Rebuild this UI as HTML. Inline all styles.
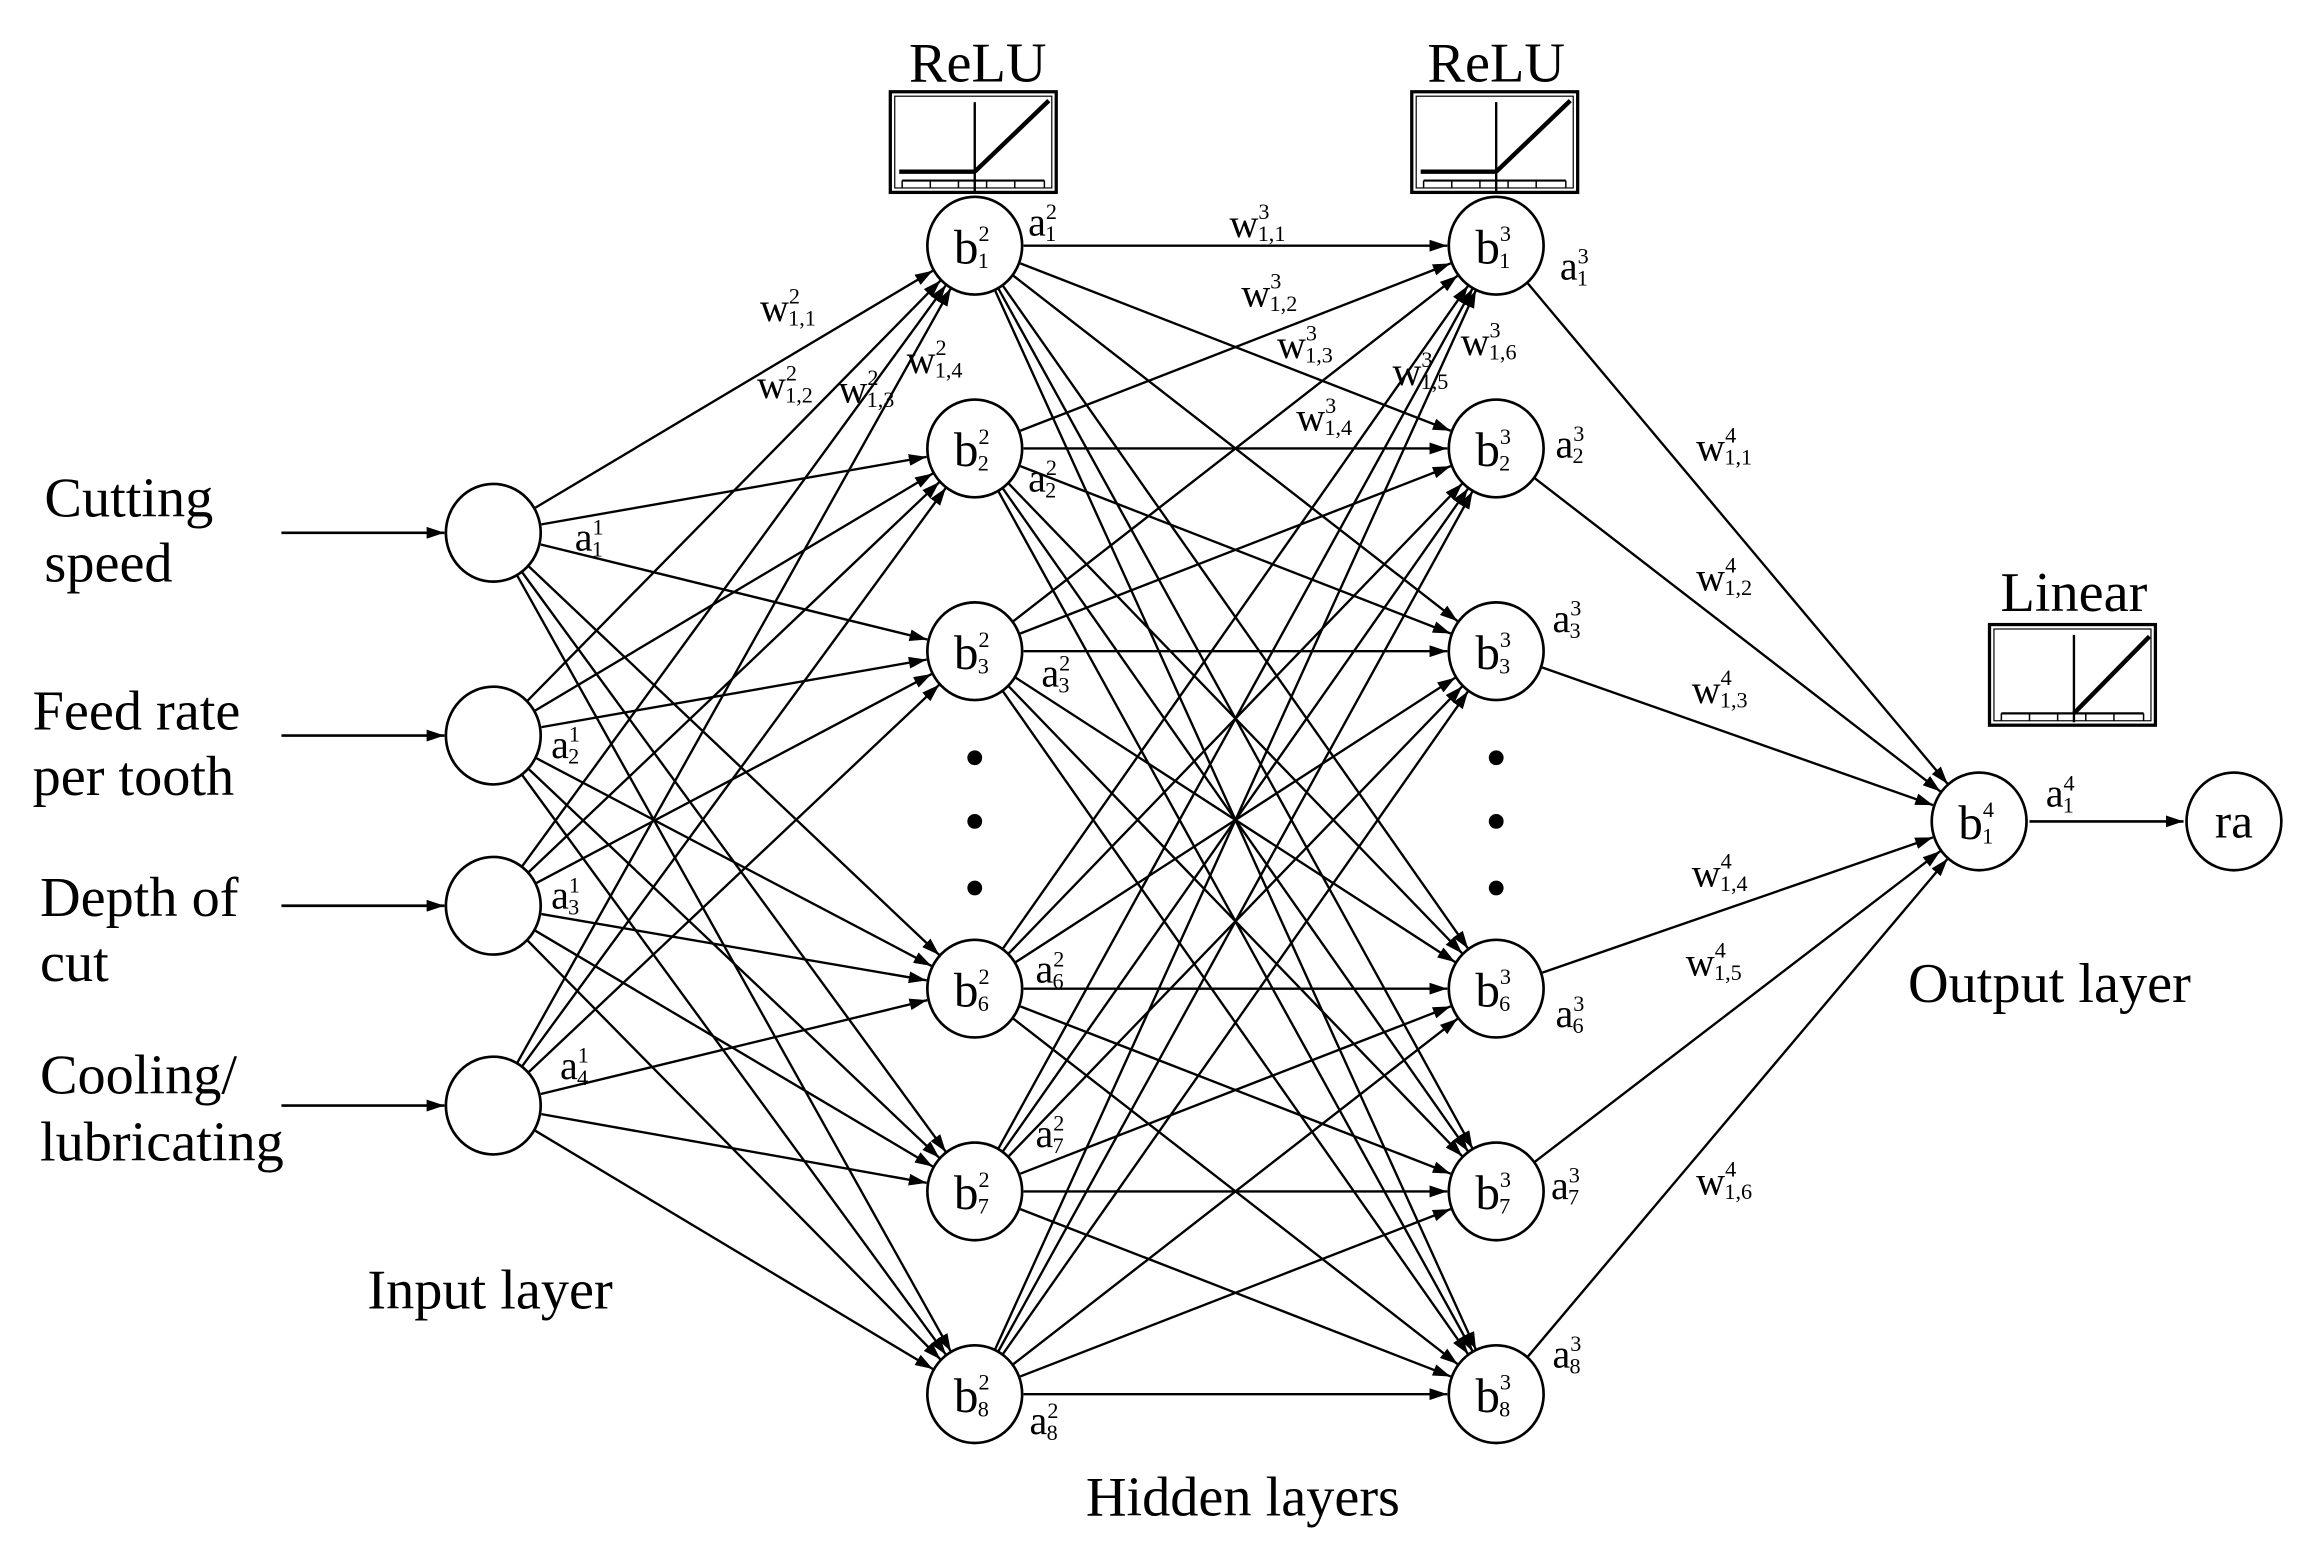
<!DOCTYPE html>
<html><head><meta charset="utf-8">
<style>
html,body{margin:0;padding:0;background:#fff;}
svg{display:block;font-family:"Liberation Serif","Times New Roman",serif;}
text{font-family:"Liberation Serif","Times New Roman",serif;fill:#000;}
.b{font-size:33px;}
.s{font-size:15px;}
.l{font-size:27px;}
.big{font-size:38px;}
</style></head><body>
<svg id="g" width="2308" height="1554" viewBox="0 0 1558 1050" preserveAspectRatio="none" xmlns="http://www.w3.org/2000/svg" font-family="Liberation Serif, serif">
<defs>
<marker id="ar" markerWidth="12" markerHeight="8" refX="12" refY="4" orient="auto" markerUnits="userSpaceOnUse">
<path d="M0,0 L12,4 L0,8 z" fill="#000"/>
</marker>
</defs>
<g id="lines" stroke="#000" stroke-width="1.6" fill="none"></g>

<g stroke="#000" stroke-width="1.8">
<line x1="190" y1="360" x2="300" y2="360" marker-end="url(#ar)"/>
<line x1="190" y1="497" x2="300" y2="497" marker-end="url(#ar)"/>
<line x1="190" y1="612" x2="300" y2="612" marker-end="url(#ar)"/>
<line x1="190" y1="747" x2="300" y2="747" marker-end="url(#ar)"/>
<line x1="1370" y1="555" x2="1474" y2="555" marker-end="url(#ar)"/>
</g>

<g fill="#fff" stroke="#000" stroke-width="1.8">
<ellipse cx="333" cy="360" rx="32" ry="33"/>
<ellipse cx="333" cy="497" rx="32" ry="33"/>
<ellipse cx="333" cy="612" rx="32" ry="33"/>
<ellipse cx="333" cy="747" rx="32" ry="33"/>
<ellipse cx="658" cy="166" rx="32" ry="33"/>
<ellipse cx="658" cy="303" rx="32" ry="33"/>
<ellipse cx="658" cy="440" rx="32" ry="33"/>
<ellipse cx="658" cy="668" rx="32" ry="33"/>
<ellipse cx="658" cy="805" rx="32" ry="33"/>
<ellipse cx="658" cy="942" rx="32" ry="33"/>
<ellipse cx="1010" cy="166" rx="32" ry="33"/>
<ellipse cx="1010" cy="303" rx="32" ry="33"/>
<ellipse cx="1010" cy="440" rx="32" ry="33"/>
<ellipse cx="1010" cy="668" rx="32" ry="33"/>
<ellipse cx="1010" cy="805" rx="32" ry="33"/>
<ellipse cx="1010" cy="942" rx="32" ry="33"/>
<ellipse cx="1336" cy="555" rx="32" ry="33"/>
<ellipse cx="1508" cy="555" rx="32" ry="33"/>
</g>
<g fill="#000">
<circle cx="658" cy="512" r="5"/><circle cx="658" cy="555" r="5"/><circle cx="658" cy="600" r="5"/>
<circle cx="1010" cy="512" r="5"/><circle cx="1010" cy="555" r="5"/><circle cx="1010" cy="600" r="5"/>
</g>

<g transform="translate(601,62)">
<rect x="0" y="0" width="112" height="68" fill="#fff" stroke="#000" stroke-width="2.2"/>
<rect x="3" y="3" width="106" height="62" fill="none" stroke="#000" stroke-width="0.8"/>
<line x1="8" y1="60" x2="104" y2="60" stroke="#000" stroke-width="1.5"/>
<g stroke="#000" stroke-width="1"><line x1="8" y1="60" x2="8" y2="65"/><line x1="27" y1="60" x2="27" y2="65"/><line x1="46" y1="60" x2="46" y2="65"/><line x1="65" y1="60" x2="65" y2="65"/><line x1="84" y1="60" x2="84" y2="65"/><line x1="104" y1="60" x2="104" y2="65"/></g>
<line x1="57" y1="7" x2="57" y2="68" stroke="#000" stroke-width="1.6"/>
<line x1="6" y1="54" x2="57" y2="54" stroke="#000" stroke-width="3"/>
<line x1="57" y1="54" x2="107" y2="6" stroke="#000" stroke-width="3"/>
</g>
<g transform="translate(953,62)">
<rect x="0" y="0" width="112" height="68" fill="#fff" stroke="#000" stroke-width="2.2"/>
<rect x="3" y="3" width="106" height="62" fill="none" stroke="#000" stroke-width="0.8"/>
<line x1="8" y1="60" x2="104" y2="60" stroke="#000" stroke-width="1.5"/>
<g stroke="#000" stroke-width="1"><line x1="8" y1="60" x2="8" y2="65"/><line x1="27" y1="60" x2="27" y2="65"/><line x1="46" y1="60" x2="46" y2="65"/><line x1="65" y1="60" x2="65" y2="65"/><line x1="84" y1="60" x2="84" y2="65"/><line x1="104" y1="60" x2="104" y2="65"/></g>
<line x1="57" y1="7" x2="57" y2="68" stroke="#000" stroke-width="1.6"/>
<line x1="6" y1="54" x2="57" y2="54" stroke="#000" stroke-width="3"/>
<line x1="57" y1="54" x2="107" y2="6" stroke="#000" stroke-width="3"/>
</g>
<g transform="translate(1343,422)">
<rect x="0" y="0" width="112" height="68" fill="#fff" stroke="#000" stroke-width="2.2"/>
<rect x="3" y="3" width="106" height="62" fill="none" stroke="#000" stroke-width="0.8"/>
<line x1="8" y1="60" x2="104" y2="60" stroke="#000" stroke-width="1.5"/>
<g stroke="#000" stroke-width="1"><line x1="8" y1="60" x2="8" y2="65"/><line x1="27" y1="60" x2="27" y2="65"/><line x1="46" y1="60" x2="46" y2="65"/><line x1="65" y1="60" x2="65" y2="65"/><line x1="84" y1="60" x2="84" y2="65"/><line x1="104" y1="60" x2="104" y2="65"/></g>
<line x1="57" y1="7" x2="57" y2="66" stroke="#000" stroke-width="1.6"/>
<line x1="57" y1="60" x2="108" y2="8" stroke="#000" stroke-width="3"/>
</g>

<text class="big" x="660" y="55" text-anchor="middle">ReLU</text>
<text class="big" x="1010" y="55" text-anchor="middle">ReLU</text>
<text class="big" x="1400" y="413" text-anchor="middle">Linear</text>
<text class="big" x="30" y="349">Cutting</text>
<text class="big" x="30" y="393">speed</text>
<text class="big" x="22" y="493">Feed rate</text>
<text class="big" x="22" y="537">per tooth</text>
<text class="big" x="27" y="619">Depth of</text>
<text class="big" x="27" y="663">cut</text>
<text class="big" x="27" y="739">Cooling/</text>
<text class="big" x="27" y="784">lubricating</text>
<text class="big" x="248" y="884">Input layer</text>
<text class="big" x="733" y="1024">Hidden layers</text>
<text class="big" x="1288" y="677">Output layer</text>

<g>
<text x="644" y="178" class="b">b<tspan class="s" dy="-15">2</tspan><tspan class="s" dx="-8" dy="18">1</tspan></text>
<text x="644" y="315" class="b">b<tspan class="s" dy="-15">2</tspan><tspan class="s" dx="-8" dy="18">2</tspan></text>
<text x="644" y="452" class="b">b<tspan class="s" dy="-15">2</tspan><tspan class="s" dx="-8" dy="18">3</tspan></text>
<text x="644" y="680" class="b">b<tspan class="s" dy="-15">2</tspan><tspan class="s" dx="-8" dy="18">6</tspan></text>
<text x="644" y="817" class="b">b<tspan class="s" dy="-15">2</tspan><tspan class="s" dx="-8" dy="18">7</tspan></text>
<text x="644" y="954" class="b">b<tspan class="s" dy="-15">2</tspan><tspan class="s" dx="-8" dy="18">8</tspan></text>
<text x="996" y="178" class="b">b<tspan class="s" dy="-15">3</tspan><tspan class="s" dx="-8" dy="18">1</tspan></text>
<text x="996" y="315" class="b">b<tspan class="s" dy="-15">3</tspan><tspan class="s" dx="-8" dy="18">2</tspan></text>
<text x="996" y="452" class="b">b<tspan class="s" dy="-15">3</tspan><tspan class="s" dx="-8" dy="18">3</tspan></text>
<text x="996" y="680" class="b">b<tspan class="s" dy="-15">3</tspan><tspan class="s" dx="-8" dy="18">6</tspan></text>
<text x="996" y="817" class="b">b<tspan class="s" dy="-15">3</tspan><tspan class="s" dx="-8" dy="18">7</tspan></text>
<text x="996" y="954" class="b">b<tspan class="s" dy="-15">3</tspan><tspan class="s" dx="-8" dy="18">8</tspan></text>
<text x="1322" y="567" class="b">b<tspan class="s" dy="-15">4</tspan><tspan class="s" dx="-8" dy="18">1</tspan></text>
<text x="1508" y="566" class="b" text-anchor="middle">ra</text>
</g>

<g>
<text class="l" x="388" y="372">a<tspan class="s" dy="-11">1</tspan><tspan class="s" dx="-8" dy="15">1</tspan></text>
<text class="l" x="372" y="512">a<tspan class="s" dy="-11">1</tspan><tspan class="s" dx="-8" dy="15">2</tspan></text>
<text class="l" x="372" y="614">a<tspan class="s" dy="-11">1</tspan><tspan class="s" dx="-8" dy="15">3</tspan></text>
<text class="l" x="378" y="729">a<tspan class="s" dy="-11">1</tspan><tspan class="s" dx="-8" dy="15">4</tspan></text>
<text class="l" x="694" y="159">a<tspan class="s" dy="-11">2</tspan><tspan class="s" dx="-8" dy="15">1</tspan></text>
<text class="l" x="694" y="332">a<tspan class="s" dy="-11">2</tspan><tspan class="s" dx="-8" dy="15">2</tspan></text>
<text class="l" x="703" y="464">a<tspan class="s" dy="-11">2</tspan><tspan class="s" dx="-8" dy="15">3</tspan></text>
<text class="l" x="699" y="664">a<tspan class="s" dy="-11">2</tspan><tspan class="s" dx="-8" dy="15">6</tspan></text>
<text class="l" x="699" y="775">a<tspan class="s" dy="-11">2</tspan><tspan class="s" dx="-8" dy="15">7</tspan></text>
<text class="l" x="695" y="969">a<tspan class="s" dy="-11">2</tspan><tspan class="s" dx="-8" dy="15">8</tspan></text>
<text class="l" x="1053" y="189">a<tspan class="s" dy="-11">3</tspan><tspan class="s" dx="-8" dy="15">1</tspan></text>
<text class="l" x="1050" y="309">a<tspan class="s" dy="-11">3</tspan><tspan class="s" dx="-8" dy="15">2</tspan></text>
<text class="l" x="1048" y="427">a<tspan class="s" dy="-11">3</tspan><tspan class="s" dx="-8" dy="15">3</tspan></text>
<text class="l" x="1050" y="694">a<tspan class="s" dy="-11">3</tspan><tspan class="s" dx="-8" dy="15">6</tspan></text>
<text class="l" x="1047" y="810">a<tspan class="s" dy="-11">3</tspan><tspan class="s" dx="-8" dy="15">7</tspan></text>
<text class="l" x="1048" y="924">a<tspan class="s" dy="-11">3</tspan><tspan class="s" dx="-8" dy="15">8</tspan></text>
<text class="l" x="1381" y="545">a<tspan class="s" dy="-11">4</tspan><tspan class="s" dx="-8" dy="15">1</tspan></text>
</g>

<g>
<text class="l" x="513" y="217">w<tspan class="s" dy="-12">2</tspan><tspan class="s" dx="-8" dy="15">1,1</tspan></text>
<text class="l" x="511" y="269">w<tspan class="s" dy="-12">2</tspan><tspan class="s" dx="-8" dy="15">1,2</tspan></text>
<text class="l" x="566" y="272">w<tspan class="s" dy="-12">2</tspan><tspan class="s" dx="-8" dy="15">1,3</tspan></text>
<text class="l" x="612" y="252">w<tspan class="s" dy="-12">2</tspan><tspan class="s" dx="-8" dy="15">1,4</tspan></text>
<text class="l" x="830" y="160">w<tspan class="s" dy="-12">3</tspan><tspan class="s" dx="-8" dy="15">1,1</tspan></text>
<text class="l" x="838" y="207">w<tspan class="s" dy="-12">3</tspan><tspan class="s" dx="-8" dy="15">1,2</tspan></text>
<text class="l" x="862" y="242">w<tspan class="s" dy="-12">3</tspan><tspan class="s" dx="-8" dy="15">1,3</tspan></text>
<text class="l" x="875" y="291">w<tspan class="s" dy="-12">3</tspan><tspan class="s" dx="-8" dy="15">1,4</tspan></text>
<text class="l" x="940" y="260">w<tspan class="s" dy="-12">3</tspan><tspan class="s" dx="-8" dy="15">1,5</tspan></text>
<text class="l" x="986" y="240">w<tspan class="s" dy="-12">3</tspan><tspan class="s" dx="-8" dy="15">1,6</tspan></text>
<text class="l" x="1145" y="311">w<tspan class="s" dy="-12">4</tspan><tspan class="s" dx="-8" dy="15">1,1</tspan></text>
<text class="l" x="1145" y="399">w<tspan class="s" dy="-12">4</tspan><tspan class="s" dx="-8" dy="15">1,2</tspan></text>
<text class="l" x="1142" y="475">w<tspan class="s" dy="-12">4</tspan><tspan class="s" dx="-8" dy="15">1,3</tspan></text>
<text class="l" x="1142" y="599">w<tspan class="s" dy="-12">4</tspan><tspan class="s" dx="-8" dy="15">1,4</tspan></text>
<text class="l" x="1138" y="659">w<tspan class="s" dy="-12">4</tspan><tspan class="s" dx="-8" dy="15">1,5</tspan></text>
<text class="l" x="1145" y="807">w<tspan class="s" dy="-12">4</tspan><tspan class="s" dx="-8" dy="15">1,6</tspan></text>
</g>
</svg>
<script>
(function(){
var NS="http://www.w3.org/2000/svg";
var g=document.getElementById("lines");
var inp=[[333,360],[333,497],[333,612],[333,747]];
var ys=[166,303,440,668,805,942];
var h1=ys.map(function(y){return [658,y];});
var h2=ys.map(function(y){return [1010,y];});
var out=[[1336,555]];
var R=33;
function ln(a,b){
 var dx=b[0]-a[0],dy=b[1]-a[1],d=Math.sqrt(dx*dx+dy*dy);
 var ux=dx/d,uy=dy/d;
 var l=document.createElementNS(NS,"line");
 l.setAttribute("x1",a[0]+ux*R);l.setAttribute("y1",a[1]+uy*R);
 l.setAttribute("x2",b[0]-ux*R);l.setAttribute("y2",b[1]-uy*R);
 l.setAttribute("marker-end","url(#ar)");
 g.appendChild(l);
}
function conn(A,B){A.forEach(function(a){B.forEach(function(b){ln(a,b);});});}
conn(inp,h1);conn(h1,h2);conn(h2,out);
})();
</script>
</body></html>
